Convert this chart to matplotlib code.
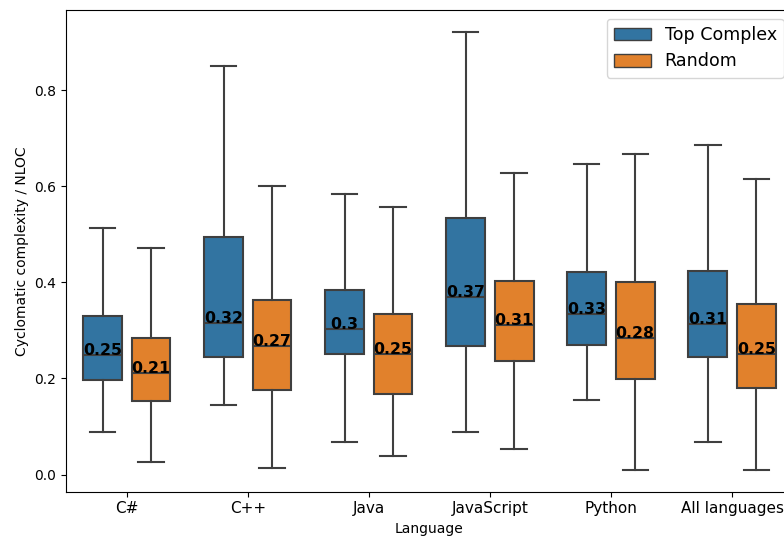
import numpy as np
import matplotlib
matplotlib.use("Agg")
import matplotlib.pyplot as plt
from matplotlib.patches import Patch

# values (no outliers shown)
languages = ["C#", "C++", "Java", "JavaScript", "Python", "All languages"]
groups = ["Top Complex", "Random"]
colors = ["#3274a1", "#e1812c"]

top_whislo = [0.089, 0.144, 0.068, 0.089, 0.155, 0.068]
top_q1 = [0.197, 0.245, 0.250, 0.268, 0.270, 0.244]
top_med = [0.249, 0.316, 0.302, 0.370, 0.334, 0.314]
top_q3 = [0.330, 0.495, 0.385, 0.534, 0.422, 0.423]
top_whishi = [0.513, 0.850, 0.583, 0.921, 0.647, 0.686]

rnd_whislo = [0.026, 0.014, 0.039, 0.054, 0.010, 0.010]
rnd_q1 = [0.154, 0.176, 0.167, 0.236, 0.199, 0.181]
rnd_med = [0.211, 0.267, 0.250, 0.311, 0.284, 0.250]
rnd_q3 = [0.285, 0.364, 0.334, 0.403, 0.400, 0.355]
rnd_whishi = [0.471, 0.600, 0.556, 0.628, 0.667, 0.616]

series = [
    (top_whislo, top_q1, top_med, top_q3, top_whishi),
    (rnd_whislo, rnd_q1, rnd_med, rnd_q3, rnd_whishi),
]

fig = plt.figure(figsize=(7.84, 5.38), dpi=100)
ax = fig.add_axes([66.2 / 784, 46.3 / 538, 726.4 / 784, 481.7 / 538])

line_col = "#3f3f3f"
x = np.arange(len(languages))
offsets = [-0.2, 0.2]

for (lo, q1, med, q3, hi), off, col in zip(series, offsets, colors):
    stats = []
    for i in range(len(languages)):
        stats.append({"whislo": lo[i], "q1": q1[i], "med": med[i],
                      "q3": q3[i], "whishi": hi[i], "fliers": []})
    ax.bxp(stats, positions=x + off, widths=0.32, capwidths=0.21,
           patch_artist=True, showfliers=False, manage_ticks=False,
           boxprops=dict(facecolor=col, edgecolor=line_col, linewidth=1.5),
           medianprops=dict(color=line_col, linewidth=1.5),
           whiskerprops=dict(color=line_col, linewidth=1.5),
           capprops=dict(color=line_col, linewidth=1.5))
    # median labels
    for i in range(len(languages)):
        ax.text(x[i] + off, med[i], str(round(med[i], 2)), ha="center",
                va="baseline", fontsize=11.3, fontweight="bold", color="black",
                zorder=5)

ax.set_xlim(-0.5, len(languages) - 0.5)
ax.set_xticks(x)
ax.set_xticklabels(languages, fontsize=11)
ax.tick_params(axis="y", labelsize=10)
ax.set_xlabel("Language", fontsize=10)
ax.set_ylabel("Cyclomatic complexity / NLOC", fontsize=10)

handles = [Patch(facecolor=c, edgecolor=line_col, label=g)
           for c, g in zip(colors, groups)]
ax.legend(handles=handles, loc="upper right", fontsize=12.6, handlelength=2.1)

fig.savefig("out.png", dpi=100)
